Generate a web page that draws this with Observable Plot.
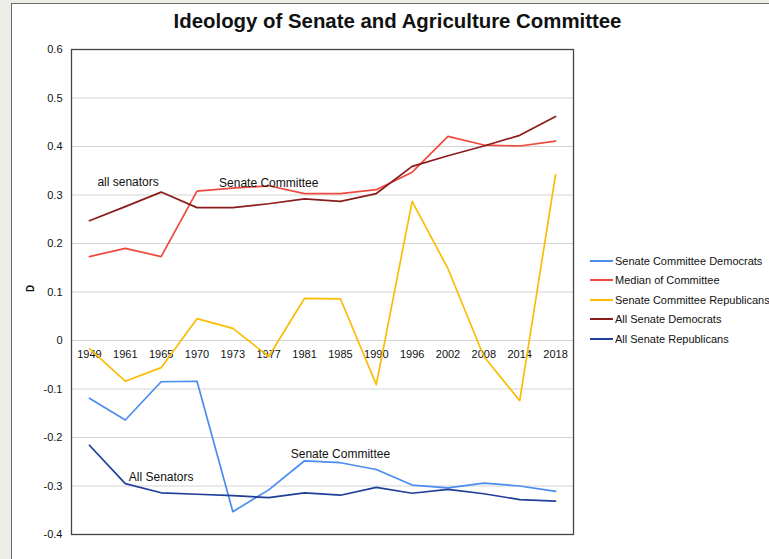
<!DOCTYPE html>
<html>
<head>
<meta charset="utf-8">
<script src="https://cdn.jsdelivr.net/npm/d3@7"></script>
<script src="https://cdn.jsdelivr.net/npm/@observablehq/plot@0.6"></script>
<style>
  body { margin: 0; background: #efede7; font-family: "Liberation Sans", Arial, sans-serif; }
  #wrap { position: relative; width: 769px; height: 559px; overflow: hidden; }
  #card { position: absolute; left: 11px; top: 3px; width: 800px; height: 600px; background: #fff; border: 1.5px solid #6a6a6a; box-sizing: border-box; }
  #chart { position: absolute; left: 0; top: 0; }
  #title { position: absolute; left: 0; width: 795px; top: 10px; text-align: center; font-weight: bold; font-size: 20.4px; color: #111; }
  #legend { position: absolute; left: 590px; top: 251px; font-size: 11px; color: #111; }
  .row { display: flex; align-items: center; height: 19.5px; white-space: nowrap; }
  .sw { width: 23px; height: 2px; margin-right: 2px; }
</style>
</head>
<body>
<div id="wrap">
  <div id="card"></div>
  <div id="chart"></div>
  <div id="title">Ideology of Senate and Agriculture Committee</div>
  <div id="legend"></div>
</div>
<script>
const years = ["1949","1961","1965","1970","1973","1977","1981","1985","1990","1996","2002","2008","2014","2018"];
const yTicks = [-0.4,-0.3,-0.2,-0.1,0,0.1,0.2,0.3,0.4,0.5,0.6];

const committeeDemocrats = [-0.119,-0.164,-0.085,-0.084,-0.353,-0.308,-0.248,-0.252,-0.266,-0.298,-0.304,-0.294,-0.300,-0.311];
const medianCommittee    = [0.173,0.190,0.173,0.308,0.314,0.319,0.303,0.303,0.311,0.347,0.421,0.403,0.401,0.411];
const committeeRepublicans = [-0.017,-0.084,-0.056,0.045,0.025,-0.033,0.087,0.086,-0.091,0.287,0.148,-0.033,-0.124,0.342];
const allDemocrats   = [0.247,0.276,0.306,0.274,0.274,0.282,0.292,0.287,0.303,0.359,0.381,0.401,0.423,0.462];
const allRepublicans = [-0.216,-0.295,-0.314,-0.317,-0.320,-0.324,-0.314,-0.319,-0.303,-0.315,-0.307,-0.316,-0.328,-0.331];

const seriesNames = ["Senate Committee Democrats","Median of Committee","Senate Committee Republicans","All Senate Democrats","All Senate Republicans"];
const seriesColors = ["#4a8cf0","#ee4a3d","#fbbc05","#8b1c1c","#1f3f99"];
const seriesValues = [committeeDemocrats, medianCommittee, committeeRepublicans, allDemocrats, allRepublicans];

const annotations = [
  {text: "all senators", x: "1949", y: 0.326, anchor: "start"},
  {text: "Senate Committee", x: "1977", y: 0.324, anchor: "middle"},
  {text: "Senate Committee", x: "1985", y: -0.235, anchor: "middle"},
  {text: "All Senators", x: "1965", y: -0.282, anchor: "middle"}
];

const data = seriesNames.flatMap((name, i) => years.map((yr, j) => ({series: name, year: yr, value: seriesValues[i][j]})));

const plot = Plot.plot({
  width: 769,
  height: 559,
  marginLeft: 71,
  marginRight: 196,
  marginTop: 49,
  marginBottom: 25,
  style: {background: "transparent", fontFamily: "Liberation Sans, Arial, sans-serif", color: "#111"},
  x: {type: "point", domain: years, padding: 0.5, round: false, axis: null},
  y: {domain: [-0.4, 0.6], axis: null},
  color: {domain: seriesNames, range: seriesColors},
  marks: [
    Plot.gridY(yTicks, {stroke: "#d4d4d4", strokeOpacity: 1, strokeWidth: 1}),
    Plot.axisY(yTicks, {tickSize: 0, tickPadding: 9, fontSize: 11, tickFormat: d => d === 0 ? "0" : d.toFixed(1), label: null}),
    Plot.text(["D"], {frameAnchor: "left", dx: -41, rotate: -90, fontWeight: "bold", fontSize: 10}),
    Plot.text(years, {x: d => d, y: 0, dy: 14, text: d => d, fontSize: 11}),
    Plot.line(data, {x: "year", y: "value", z: "series", stroke: "series", strokeWidth: 1.7}),
    Plot.text(annotations.filter(a => a.anchor === "start"), {x: "x", y: "y", text: "text", textAnchor: "start", dx: 8, fontSize: 12}),
    Plot.text(annotations.filter(a => a.anchor === "middle"), {x: "x", y: "y", text: "text", textAnchor: "middle", fontSize: 12}),
    Plot.frame({stroke: "#444", strokeWidth: 1.3})
  ]
});
document.getElementById("chart").appendChild(plot);

const legend = document.getElementById("legend");
seriesNames.forEach((name, i) => {
  const row = document.createElement("div");
  row.className = "row";
  const sw = document.createElement("span");
  sw.className = "sw";
  sw.style.background = seriesColors[i];
  const t = document.createElement("span");
  t.textContent = name;
  row.appendChild(sw);
  row.appendChild(t);
  legend.appendChild(row);
});
</script>
</body>
</html>
